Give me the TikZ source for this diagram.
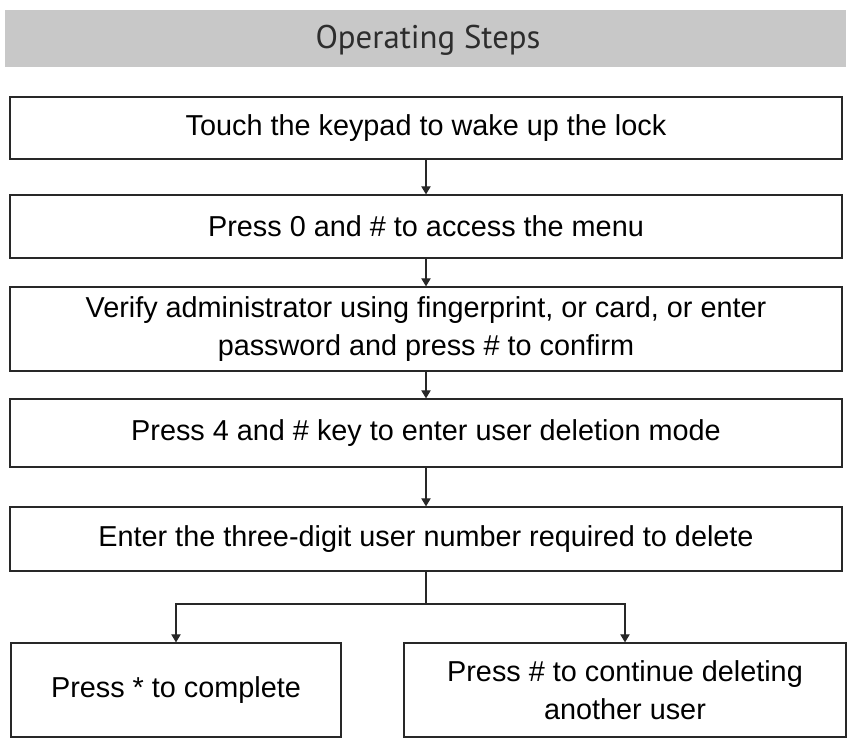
\documentclass[tikz,border=0pt]{standalone}
\usepackage{fontspec}
\setmainfont{Liberation Sans}
\newfontfamily\headfont{PT Sans}
\usetikzlibrary{arrows.meta, positioning, calc}
\definecolor{opband}{RGB}{200, 200, 200}
\definecolor{opink}{RGB}{40, 40, 40}
\definecolor{ophead}{RGB}{45, 45, 45}
\tikzset{
  stepbox/.style={draw=opink, line width=1.1pt, fill=white, align=center,
    inner sep=0pt, font=\fontsize{24.6}{32.4}\selectfont, text=black},
  mainbox/.style={stepbox, minimum width=24.96cm},
  flowline/.style={draw=opink, line width=1pt},
  flowarrow/.style={flowline, -{Triangle[length=2.4mm, width=2.8mm]}}
}
\begin{document}
\begin{tikzpicture}[x=0.3mm, y=-0.3mm]

  \useasboundingbox (0,0) rectangle (851,740);

  % --- title band ---
  \fill[opband] (5,10) rectangle (846,67);
  \node[font=\headfont\fontsize{28}{32}\selectfont, text=ophead] (title) at (428,40)
    {Operating Steps};

  % --- main column of steps ---
  \node[mainbox, minimum height=1.86cm] (wake) at (426,128)
    {Touch the keypad to wake up the lock};
  \node[mainbox, minimum height=1.89cm] (menu) at (426,226.5)
    {Press 0 and \# to access the menu};
  \node[mainbox, minimum height=2.52cm] (verify) at (426,329)
    {Verify administrator using fingerprint, or card, or enter\\
     password and press \# to confirm};
  \node[mainbox, minimum height=2.04cm] (delmode) at (426,433)
    {Press 4 and \# key to enter user deletion mode};
  \node[mainbox, minimum height=1.92cm] (usernum) at (426,539)
    {Enter the three-digit user number required to delete};

  % --- the two outcomes ---
  \node[stepbox, minimum width=9.9cm, minimum height=2.82cm] (done) at (176,690)
    {Press * to complete};
  \node[stepbox, minimum width=13.26cm, minimum height=2.82cm] (again) at (625,690)
    {Press \# to continue deleting\\ another user};

  % --- arrows between steps ---
  \draw[flowarrow] (wake) -- (menu);
  \draw[flowarrow] (menu) -- (verify);
  \draw[flowarrow] (verify) -- (delmode);
  \draw[flowarrow] (delmode) -- (usernum);

  % --- branch ---
  \coordinate (fork) at (426,604);
  \draw[flowline] (usernum.south) -- (fork);
  \draw[flowarrow] (fork) -| (done.north);
  \draw[flowarrow] (fork) -| (again.north);

\end{tikzpicture}
\end{document}
